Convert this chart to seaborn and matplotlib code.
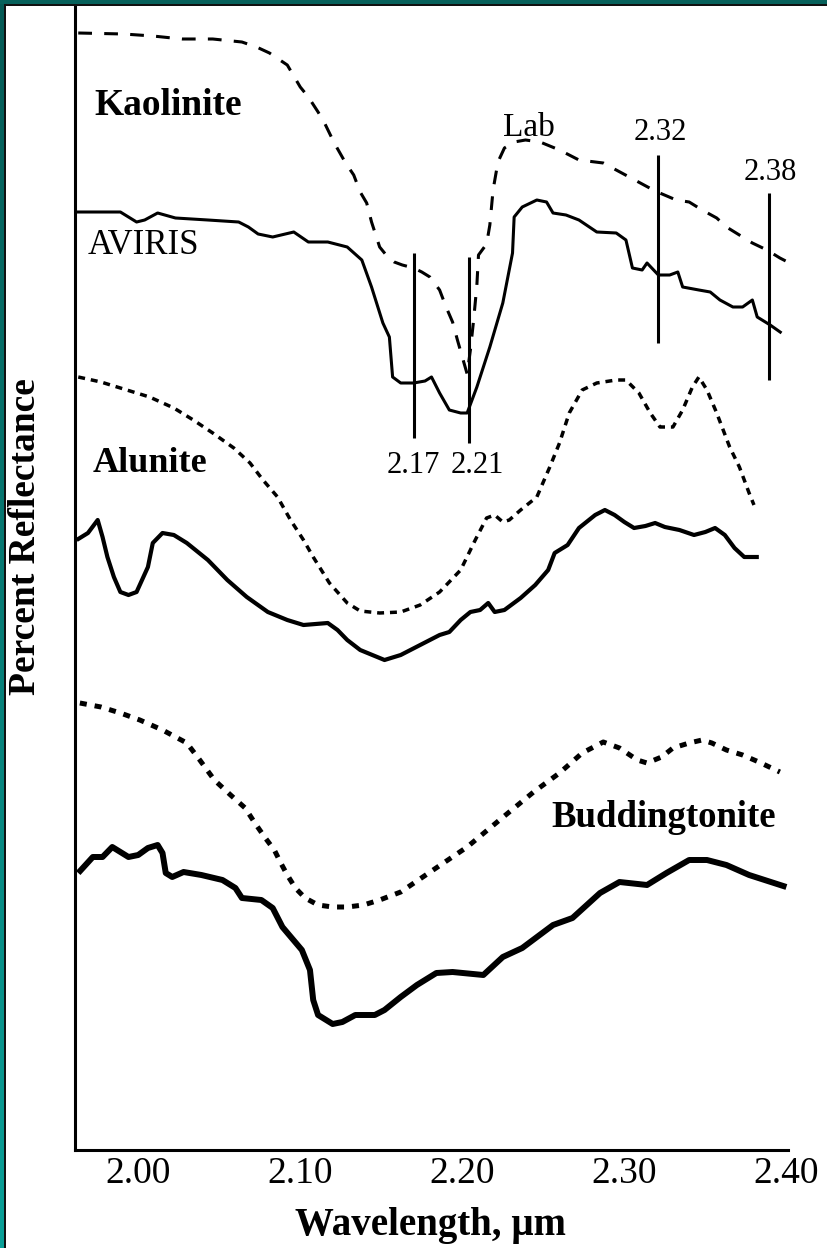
import numpy as np
import pandas as pd
import matplotlib
matplotlib.use("Agg")
import matplotlib.pyplot as plt
import seaborn as sns

# ---------------- data (wavelength in um, relative reflectance, offset) ----------------
kao_lab_wl = [1.963, 1.991, 2.009, 2.027, 2.046, 2.064, 2.073, 2.081, 2.092, 2.100, 2.105, 2.111,
              2.115, 2.121, 2.128, 2.133, 2.137, 2.141, 2.144, 2.149, 2.154, 2.158, 2.163, 2.170,
              2.175, 2.180, 2.186, 2.190, 2.194, 2.197, 2.200, 2.203, 2.205, 2.207, 2.209, 2.210,
              2.215, 2.217, 2.219, 2.222, 2.226, 2.232, 2.239, 2.248, 2.260, 2.272, 2.287, 2.303,
              2.319, 2.332, 2.340, 2.348, 2.357, 2.363, 2.371, 2.379, 2.388, 2.396, 2.402]
kao_lab_r = [111.7, 111.6, 111.4, 111.1, 111.1, 110.8, 110.3, 109.7, 108.5, 106.3, 105.3, 103.8,
             102.7, 100.7, 98.7, 97.5, 95.8, 94.7, 92.8, 90.3, 89.3, 88.8, 88.5, 88.2,
             87.8, 87.3, 86.0, 84.3, 82.8, 81.0, 79.3, 77.6, 80.0, 83.0, 86.5, 89.5,
             90.6, 92.5, 96.0, 98.8, 100.2, 100.8, 101.0, 100.8, 100.0, 99.0, 98.7, 97.3,
             95.9, 95.0, 94.8, 94.0, 93.2, 92.3, 91.5, 90.7, 90.0, 89.2, 88.7]

kao_av_wl = [1.961, 1.989, 1.994, 1.999, 2.004, 2.012, 2.023, 2.043, 2.062, 2.068, 2.074, 2.083,
             2.096, 2.105, 2.117, 2.129, 2.138, 2.144, 2.151, 2.155, 2.157, 2.162, 2.170, 2.177,
             2.181, 2.186, 2.192, 2.199, 2.203, 2.209, 2.217, 2.225, 2.231, 2.232, 2.237, 2.246,
             2.252, 2.256, 2.264, 2.272, 2.283, 2.295, 2.301, 2.305, 2.311, 2.314, 2.321, 2.328,
             2.333, 2.336, 2.346, 2.353, 2.359, 2.367, 2.373, 2.379, 2.382, 2.390, 2.397]
kao_av_r = [93.8, 93.8, 93.3, 92.8, 93.0, 93.7, 93.2, 93.0, 92.8, 92.3, 91.6, 91.3,
            91.8, 90.8, 90.8, 90.3, 89.0, 86.3, 82.7, 81.3, 77.3, 76.7, 76.7, 76.9,
            77.3, 75.7, 74.0, 73.7, 73.7, 76.3, 80.3, 84.7, 89.7, 93.3, 94.3, 95.0,
            94.8, 93.7, 93.5, 93.0, 91.8, 91.7, 91.0, 88.2, 88.0, 88.7, 87.5, 87.5,
            87.8, 86.3, 86.0, 85.8, 85.0, 84.3, 84.3, 85.0, 83.3, 82.5, 81.7]

alu_lab_wl = [1.963, 1.977, 1.993, 2.007, 2.022, 2.034, 2.046, 2.059, 2.069, 2.077, 2.086, 2.094,
              2.102, 2.108, 2.118, 2.129, 2.137, 2.149, 2.162, 2.174, 2.186, 2.199, 2.208, 2.215,
              2.220, 2.225, 2.229, 2.236, 2.246, 2.254, 2.260, 2.266, 2.274, 2.283, 2.295, 2.301,
              2.309, 2.316, 2.322, 2.330, 2.336, 2.342, 2.346, 2.351, 2.357, 2.365, 2.371, 2.377,
              2.380]
alu_lab_r = [77.3, 76.8, 76.0, 75.3, 74.2, 73.0, 71.7, 70.2, 68.7, 67.0, 65.3, 63.0,
             61.0, 59.3, 56.7, 54.7, 53.9, 53.7, 53.8, 54.5, 55.8, 58.0, 61.0, 63.2,
             63.5, 62.8, 63.0, 64.0, 65.3, 68.3, 70.7, 73.7, 76.0, 76.7, 77.0, 77.0,
             75.7, 73.7, 72.3, 72.3, 74.0, 76.3, 77.3, 76.0, 73.7, 70.3, 68.3, 65.7,
             64.5]

alu_av_wl = [1.962, 1.969, 1.975, 1.978, 1.981, 1.985, 1.989, 1.994, 1.999, 2.006, 2.009, 2.015,
             2.022, 2.030, 2.043, 2.055, 2.067, 2.080, 2.092, 2.102, 2.117, 2.123, 2.129, 2.137,
             2.146, 2.152, 2.162, 2.174, 2.186, 2.192, 2.199, 2.205, 2.211, 2.216, 2.220, 2.226,
             2.236, 2.245, 2.253, 2.257, 2.265, 2.272, 2.282, 2.288, 2.294, 2.300, 2.306, 2.313,
             2.319, 2.325, 2.334, 2.343, 2.350, 2.356, 2.362, 2.368, 2.374, 2.383]
alu_av_r = [61.0, 61.7, 63.0, 61.3, 59.3, 57.3, 55.8, 55.5, 55.8, 58.3, 60.7, 61.7,
            61.5, 60.7, 59.0, 57.0, 55.3, 53.8, 53.0, 52.5, 52.7, 52.0, 51.0, 50.0,
            49.4, 49.0, 49.5, 50.5, 51.5, 51.8, 53.0, 53.8, 54.0, 54.7, 53.8, 54.0,
            55.2, 56.5, 58.0, 59.7, 60.5, 62.2, 63.5, 64.0, 63.5, 62.8, 62.2, 62.4,
            62.7, 62.3, 62.0, 61.5, 61.8, 62.2, 61.5, 60.2, 59.3, 59.3]

bud_lab_wl = [1.964, 1.977, 1.989, 2.001, 2.015, 2.030, 2.038, 2.047, 2.057, 2.066, 2.072, 2.078,
              2.084, 2.088, 2.092, 2.097, 2.103, 2.111, 2.120, 2.129, 2.139, 2.149, 2.162, 2.182,
              2.203, 2.223, 2.244, 2.260, 2.274, 2.287, 2.297, 2.308, 2.314, 2.323, 2.330, 2.340,
              2.348, 2.354, 2.363, 2.373, 2.383, 2.396]
bud_lab_r = [44.7, 44.3, 43.7, 43.0, 42.0, 40.7, 39.0, 37.0, 35.5, 34.2, 32.7, 31.3,
             30.0, 28.7, 27.5, 26.2, 25.2, 24.5, 24.3, 24.3, 24.5, 25.0, 25.8, 28.0,
             30.3, 33.0, 35.8, 37.7, 39.7, 40.8, 40.2, 39.0, 38.7, 39.3, 40.2, 40.7,
             41.0, 40.7, 40.0, 39.5, 38.8, 37.8]

bud_av_wl = [1.963, 1.972, 1.978, 1.984, 1.994, 2.000, 2.006, 2.012, 2.015, 2.017, 2.021, 2.028,
             2.039, 2.052, 2.060, 2.064, 2.076, 2.083, 2.089, 2.101, 2.106, 2.108, 2.111, 2.120,
             2.126, 2.134, 2.146, 2.152, 2.162, 2.172, 2.184, 2.194, 2.213, 2.225, 2.237, 2.256,
             2.268, 2.285, 2.297, 2.314, 2.326, 2.340, 2.351, 2.363, 2.377, 2.400]
bud_av_r = [27.7, 29.3, 29.3, 30.3, 29.3, 29.5, 30.2, 30.5, 29.7, 27.7, 27.3, 27.8,
            27.5, 27.0, 26.2, 25.2, 25.0, 24.2, 22.3, 20.0, 18.0, 15.0, 13.5, 12.6,
            12.8, 13.5, 13.5, 14.0, 15.3, 16.5, 17.7, 17.8, 17.5, 19.3, 20.2, 22.5,
            23.2, 25.7, 26.8, 26.5, 27.7, 29.0, 29.0, 28.5, 27.5, 26.3]

# absorption-feature markers: wavelength position, bottom, top, label, label position
mark_wl = [2.170, 2.204, 2.321, 2.389]
mark_lo = [71.2, 70.7, 80.7, 77.0]
mark_hi = [89.7, 89.3, 99.5, 95.7]
mark_labels = ["2.17", "2.21", "2.32", "2.38"]
mark_label_wl = [2.170, 2.209, 2.322, 2.390]
mark_label_r = [68.5, 68.5, 101.7, 97.8]

xticks = [2.00, 2.10, 2.20, 2.30, 2.40]
xtick_labels = ["2.00", "2.10", "2.20", "2.30", "2.40"]

# ---------------- style ----------------
sns.set_style("white")
plt.rcParams['font.family'] = ['Liberation Serif', 'DejaVu Serif']
plt.rcParams['text.color'] = 'black'
plt.rcParams['axes.labelcolor'] = 'black'
plt.rcParams['xtick.color'] = 'black'
plt.rcParams['ytick.color'] = 'black'

W, H = 828, 1248
fig = plt.figure(figsize=(W / 100, H / 100), dpi=100)
fig.patch.set_facecolor("white")

L, R, B, T = 75, 788, 1150, 6
ax = fig.add_axes([L / W, (H - B) / H, (R - L) / W, (B - T) / H])
ax.set_facecolor("white")


def draw(wl, r, lw, ls):
    df = pd.DataFrame({"wl": wl, "r": r})
    sns.lineplot(data=df, x="wl", y="r", ax=ax, color="black", linewidth=lw,
                 estimator=None, sort=False, clip_on=False, linestyle=ls,
                 solid_joinstyle="round", solid_capstyle="butt", dash_capstyle="butt")


draw(kao_lab_wl, kao_lab_r, 2.2, (0, (4.5, 4.0)))
draw(kao_av_wl, kao_av_r, 2.2, "-")
draw(alu_lab_wl, alu_lab_r, 2.5, (0, (2.0, 1.7)))
draw(alu_av_wl, alu_av_r, 3.0, "-")
draw(bud_lab_wl, bud_lab_r, 3.6, (0, (1.4, 1.6)))
draw(bud_av_wl, bud_av_r, 4.3, "-")

ax.vlines(mark_wl, mark_lo, mark_hi, color="black", linewidth=2.2)
for wl, r, t in zip(mark_label_wl, mark_label_r, mark_labels):
    ax.text(wl, r, t, ha="center", va="center", fontsize=22, color="black")

ax.text(1.973, 104.5, "Kaolinite", ha="left", va="center", fontsize=27, fontweight="bold", color="black")
ax.text(2.225, 102.2, "Lab", ha="left", va="center", fontsize=24, color="black")
ax.text(1.969, 90.5, "AVIRIS", ha="left", va="center", fontsize=25, color="black")
ax.text(1.972, 68.7, "Alunite", ha="left", va="center", fontsize=26, fontweight="bold", color="black")
ax.text(2.255, 33.3, "Buddingtonite", ha="left", va="center", fontsize=26.5, fontweight="bold", color="black")

ax.set_xlim(1.961, 2.401)
ax.set_ylim(0, 114.4)
ax.set_xticks(xticks)
ax.set_xticklabels(xtick_labels, fontsize=27)
ax.set_yticks([])
ax.tick_params(axis="x", direction="in", length=18, width=2.2, pad=5, colors="black")

for s in ["top", "right"]:
    ax.spines[s].set_visible(False)
for s in ["left", "bottom"]:
    ax.spines[s].set_linewidth(2.2)
    ax.spines[s].set_color("black")

ax.set_xlabel("Wavelength, \u00b5m", fontsize=28, fontweight="bold", color="black")
ax.xaxis.label.set_va("center")
ax.xaxis.set_label_coords((430 - L) / (R - L), (B - 1226) / (B - T))
ax.set_ylabel("Percent Reflectance", fontsize=27, fontweight="bold", color="black")
ax.yaxis.label.set_va("center")
ax.yaxis.set_label_coords((26 - L) / (R - L), (B - 537) / (B - T))

# frame of the original slide: teal strips with a thin dark inner line
grad = np.linspace(0, 1, 256).reshape(-1, 1)
cmap = matplotlib.colors.LinearSegmentedColormap.from_list("teal", ["#0aa098", "#055a55"])
axl = fig.add_axes([0, 0, 4 / W, 1])
axl.imshow(grad, aspect="auto", cmap=cmap, origin="lower")
axl.axis("off")
fig.add_artist(plt.Rectangle((4 / W, 0), 2 / W, 1, transform=fig.transFigure,
                             color="#111111", lw=0))
fig.add_artist(plt.Rectangle((0, 1 - 4 / H), 1, 4 / H, transform=fig.transFigure,
                             color="#07615b", lw=0))
fig.add_artist(plt.Rectangle((4 / W, 1 - 6 / H), 1, 2 / H, transform=fig.transFigure,
                             color="#111111", lw=0))

fig.savefig("out.png", dpi=100, facecolor="white")
